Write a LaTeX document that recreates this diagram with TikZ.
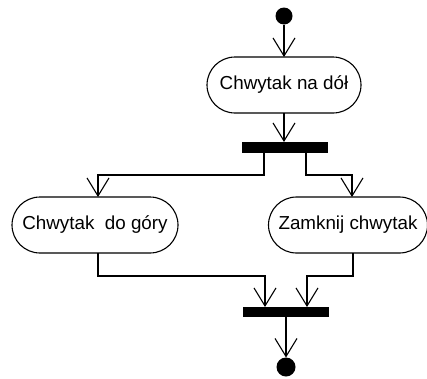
\documentclass[tikz,border=0pt]{standalone}
\usepackage{fontspec}
\setmainfont{Liberation Sans}
\usetikzlibrary{arrows.meta}
\begin{document}
\begin{tikzpicture}[x=1pt,y=-1pt,
  every node/.style={inner sep=0pt,outer sep=0pt},
  action/.style={draw,line width=1.1pt,rounded corners=28pt,minimum height=56pt,font=\fontsize{18.8}{20}\selectfont},
  bar/.style={fill=black,minimum width=86pt},
  dot/.style={circle,fill=black,minimum size=18pt},
  arr/.style={line width=1.1pt,-{Straight Barb[length=18pt,width=22pt,line width=1.1pt]}}]
  \useasboundingbox (0,0) rectangle (427,378);

  % nodes of the activity
  \node[dot,minimum size=17pt] (start) at (284,16) {};
  \node[action,minimum width=154pt] (a1) at (284,85) {Chwytak na dół};
  \node[bar,minimum height=11pt] (fork) at (285,147.5) {};
  \node[action,minimum width=166pt] (a2) at (95,225) {Chwytak\ \ do góry};
  \node[action,minimum width=159pt] (a3) at (348,225) {Zamknij chwytak};
  \node[bar,minimum height=10pt] (join) at (286,312) {};
  \node[dot,minimum size=19pt] (end) at (286,367) {};

  % transitions
  \draw[arr] (start) -- (a1);
  \draw[arr] (a1) -- (a1 |- fork.north);
  \draw[arr] ([xshift=-21pt]fork.south) -- ++(0,22) -| ([xshift=3pt]a2.north);
  \draw[arr] ([xshift=21pt]fork.south) -- ++(0,22) -| ([xshift=4pt]a3.north);
  \draw[arr] ([xshift=3pt]a2.south) -- ++(0,23) -| ([xshift=-21pt]join.north);
  \draw[arr] ([xshift=5pt]a3.south) -- ++(0,23) -| ([xshift=21pt]join.north);
  \draw[arr] (join) -- (end);
\end{tikzpicture}
\end{document}
